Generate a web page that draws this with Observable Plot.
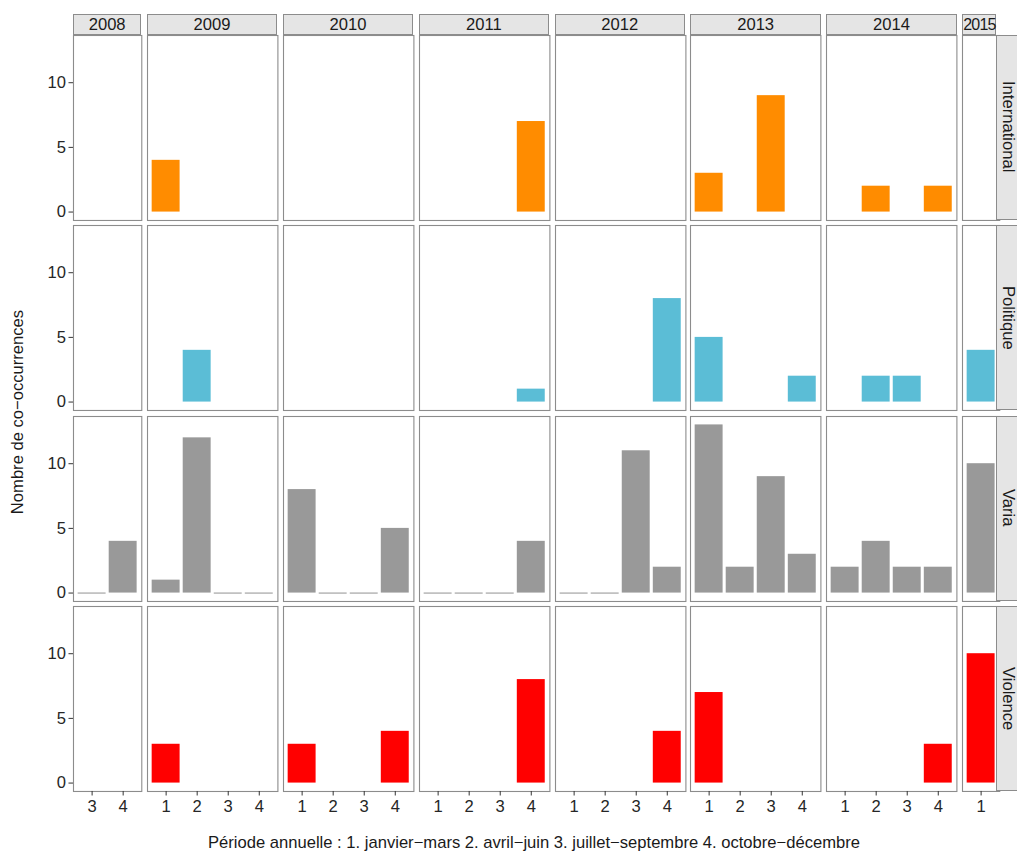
<!DOCTYPE html>
<html><head><meta charset="utf-8">
<script src="https://cdn.jsdelivr.net/npm/d3@7"></script>
<script src="https://cdn.jsdelivr.net/npm/@observablehq/plot@0.6"></script>
<style>
body{margin:0;background:#fff;}
#c{position:relative;width:1017px;height:855px;overflow:hidden;font-family:"Liberation Sans",Arial,Helvetica,sans-serif;}
.strip{position:absolute;background:#E5E5E5;border:1px solid #8c8c8c;box-sizing:border-box;display:flex;align-items:center;justify-content:center;font-size:16.6px;color:#1a1a1a;overflow:hidden;white-space:nowrap;}
.vstrip{writing-mode:vertical-rl;}
.ps{position:absolute;}
.ttl{position:absolute;font-size:16.6px;color:#1a1a1a;white-space:nowrap;}
</style></head><body><div id="c"></div>
<script>
// ---- data ----
const years = ["2008", "2009", "2010", "2011", "2012", "2013", "2014", "2015"];
const quartersByYear = [[3, 4], [1, 2, 3, 4], [1, 2, 3, 4], [1, 2, 3, 4], [1, 2, 3, 4], [1, 2, 3, 4], [1, 2, 3, 4], [1]];
const categories = ["International", "Politique", "Varia", "Violence"];
const palette = ["#FF8C00", "#5BBDD6", "#999999", "#FF0000"];
const yTicks = [0, 5, 10];
// [year, quarter, count]
const international = [["2009", 1, 4], ["2011", 4, 7], ["2013", 1, 3], ["2013", 3, 9], ["2014", 2, 2], ["2014", 4, 2]];
const politique = [["2009", 2, 4], ["2011", 4, 1], ["2012", 4, 8], ["2013", 1, 5], ["2013", 4, 2], ["2014", 2, 2], ["2014", 3, 2], ["2015", 1, 4]];
const varia = [["2008", 3, 0], ["2008", 4, 4],
  ["2009", 1, 1], ["2009", 2, 12], ["2009", 3, 0], ["2009", 4, 0],
  ["2010", 1, 8], ["2010", 2, 0], ["2010", 3, 0], ["2010", 4, 5],
  ["2011", 1, 0], ["2011", 2, 0], ["2011", 3, 0], ["2011", 4, 4],
  ["2012", 1, 0], ["2012", 2, 0], ["2012", 3, 11], ["2012", 4, 2],
  ["2013", 1, 13], ["2013", 2, 2], ["2013", 3, 9], ["2013", 4, 3],
  ["2014", 1, 2], ["2014", 2, 4], ["2014", 3, 2], ["2014", 4, 2],
  ["2015", 1, 10]];
const violence = [["2009", 1, 3], ["2010", 1, 3], ["2010", 4, 4], ["2011", 4, 8], ["2012", 4, 4], ["2013", 1, 7], ["2014", 4, 3], ["2015", 1, 10]];
const seriesByCategory = [international, politique, varia, violence];
const yTitle = "Nombre de co\u2212occurrences";
const xTitle = "Période annuelle : 1. janvier\u2212mars 2. avril\u2212juin 3. juillet\u2212septembre 4. octobre\u2212décembre";

// ---- layout ----
const c = document.getElementById("c");
const unit = 31.05, gapX = 5.5, x0 = 73;
const top0 = 34.5, panelH = 185, gapY = 5.5;
const stripRight = 995.5;
const lefts = [], widths = [];
{
  let x = x0;
  quartersByYear.forEach(qs => { const w = (qs.length + 0.2) * unit; lefts.push(x); widths.push(w); x += w + gapX; });
}
const yMax = d3.max(seriesByCategory.flat(), d => d[2]);
const yDomain = [-0.05 * yMax, yMax * 1.05];
const border = "#8c8c8c";
const font = '"Liberation Sans", Arial, Helvetica, sans-serif';

categories.forEach((cat, r) => {
  const top = top0 + r * (panelH + gapY);
  years.forEach((yr, ci) => {
    const data = seriesByCategory[r].filter(d => d[0] === yr).map(d => ({q: d[1], value: d[2]}));
    const ml = ci === 0 ? 73 : 2, mr = 2, mt = 2, mb = r === categories.length - 1 ? 40 : 2;
    const w = widths[ci];
    const marks = [
      Plot.frame({stroke: border, strokeWidth: 1.1}),
      Plot.barY(data.filter(d => d.value > 0), {x: "q", y: "value", fill: palette[r]}),
      Plot.tickY(data.filter(d => d.value === 0), {x: "q", y: "value", stroke: palette[r], strokeWidth: 1.2, strokeOpacity: 0.9})
    ];
    if (ci === 0) marks.push(Plot.axisY({ticks: yTicks, tickSize: 4.5, tickPadding: 3, fontSize: 16.6, label: null, stroke: "#333"}));
    if (r === categories.length - 1) marks.push(Plot.axisX({tickSize: 4.5, tickPadding: 4, fontSize: 16.6, label: null, stroke: "#333"}));
    const svg = Plot.plot({
      width: ml + w + mr, height: mt + panelH + mb,
      marginLeft: ml, marginRight: mr, marginTop: mt, marginBottom: mb,
      x: {type: "band", domain: quartersByYear[ci], paddingInner: 0.1, paddingOuter: 0.15, round: false, axis: null, label: null},
      y: {domain: yDomain, axis: null, label: null},
      style: {fontFamily: font, fontSize: "16.6px", color: "#262626", background: "transparent", overflow: "visible"},
      marks
    });
    const holder = document.createElement("div");
    holder.className = "ps";
    holder.style.left = (lefts[ci] - ml) + "px";
    holder.style.top = (top - mt) + "px";
    holder.appendChild(svg);
    c.appendChild(holder);
  });
  // right strip
  const s = document.createElement("div");
  s.className = "strip vstrip";
  s.style.left = stripRight + "px"; s.style.top = top + "px";
  s.style.width = "24px"; s.style.height = panelH + "px";
  s.textContent = cat;
  c.appendChild(s);
});

// top strips
years.forEach((yr, ci) => {
  const s = document.createElement("div");
  s.className = "strip";
  const l = lefts[ci];
  const w = Math.min(widths[ci], stripRight - l + 0.5);
  s.style.left = l + "px"; s.style.top = "14px";
  s.style.width = w + "px"; s.style.height = (top0 - 14 + 0.5) + "px";
  if (ci === years.length - 1) {
    s.style.justifyContent = "flex-start";
    s.style.fontSize = "16px";
    s.style.letterSpacing = "-0.8px";
    s.style.overflow = "visible";
  }
  s.textContent = yr;
  c.appendChild(s);
});

// axis titles
const xt = document.createElement("div");
xt.className = "ttl"; xt.textContent = xTitle;
xt.style.left = "534px"; xt.style.top = "843px"; xt.style.transform = "translate(-50%,-50%)";
c.appendChild(xt);
const yt = document.createElement("div");
yt.className = "ttl"; yt.textContent = yTitle;
yt.style.left = "18px"; yt.style.top = "412px"; yt.style.transform = "translate(-50%,-50%) rotate(-90deg)";
c.appendChild(yt);
</script></body></html>
